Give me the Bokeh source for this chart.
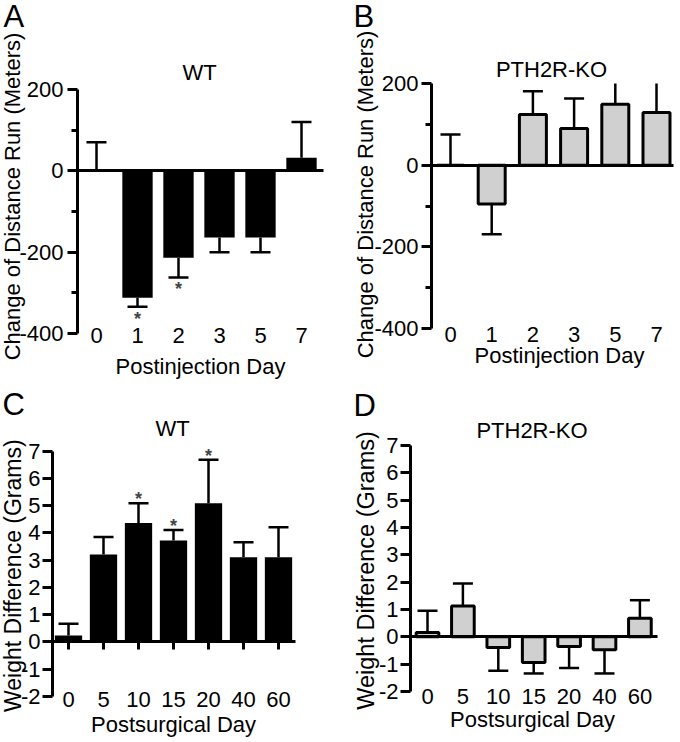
import math
from bokeh.plotting import figure
from bokeh.layouts import row, column
from bokeh.models import Range1d, FixedTicker, Label
from bokeh.embed import file_html
from bokeh.resources import INLINE

FONT = "Liberation Sans"

# ---------------- data ----------------
days_run = ["0", "1", "2", "3", "5", "7"]
wt_run = [0, -312, -214, -164, -164, 32]
wt_run_err = [70, 22, 48, 36, 36, 88]
wt_run_sig = [0, 1, 1, 0, 0, 0]
ko_run = [0, -95, 124, 90, 149, 129]
ko_run_err = [75, 74, 57, 73, 60, 80]
ko_run_sig = [0, 0, 0, 0, 0, 0]

days_wt = ["0", "5", "10", "15", "20", "40", "60"]
wt_weight = [0.24, 3.21, 4.37, 3.72, 5.09, 3.11, 3.11]
wt_weight_err = [0.43, 0.64, 0.72, 0.39, 1.60, 0.55, 1.10]
wt_weight_sig = [0, 0, 1, 1, 1, 0, 0]
ko_weight = [0.16, 1.13, -0.39, -0.94, -0.35, -0.47, 0.68]
ko_weight_err = [0.79, 0.82, 0.85, 0.40, 0.79, 0.87, 0.66]
ko_weight_sig = [0, 0, 0, 0, 0, 0, 0]

run_ticks = [-400, -200, 0, 200]
run_minor = [-300, -100, 100]
weight_ticks = [-2, -1, 0, 1, 2, 3, 4, 5, 6, 7]


def panel(cats, vals, errs, sig, yticks, yminor, title, letter, ylabel, xlabel, g):
    W, H = g["size"]
    c0, dc = g["cat_px"]               # pixel centre of first category, spacing
    (vt, pt), (vb, pb) = g["y_anchor"]  # value -> pixel (from top)
    k = (pb - pt) / (vt - vb)           # px per unit

    def px2x(px):
        return (px - c0) / dc

    def py2y(py):
        return vt + (pt - py) / k

    p = figure(width=W, height=H, output_backend="svg", toolbar_location=None,
               x_range=Range1d(px2x(0), px2x(W)), y_range=Range1d(py2y(H), py2y(0)),
               min_border=0, min_border_left=0, min_border_right=0,
               min_border_top=0, min_border_bottom=0, title=None)
    p.outline_line_color = None
    p.grid.visible = False
    p.background_fill_color = "white"
    p.border_fill_color = "white"
    xs = list(range(len(cats)))
    ymin, ymax = min(yticks), max(yticks)

    # bars
    if g["outline"]:
        p.vbar(x=xs, top=vals, bottom=0, width=g["bar_w"], fill_color=g["fill"],
               line_color="black", line_width=3)
    else:
        p.vbar(x=xs, top=vals, bottom=0, width=g["bar_w"], fill_color=g["fill"],
               line_color=None)

    # one-sided error bars, clipped at the axis limits
    raw = [v + e if v >= 0 else v - e for v, e in zip(vals, errs)]
    ends = [min(max(r, ymin), ymax) for r in raw]
    p.segment(x0=xs, y0=vals, x1=xs, y1=ends, line_color="black", line_width=2.5)
    cx = [x for x, r, e in zip(xs, raw, ends) if r == e]
    cy = [e for r, e in zip(raw, ends) if r == e]
    p.scatter(x=cx, y=cy, marker="dash", size=20, line_color="black", line_width=2.5)

    # significance marks
    for i, (v, e, s) in enumerate(zip(vals, ends, sig)):
        if s:
            off = 4 if v >= 0 else -12
            p.add_layout(Label(x=i, y=e, y_offset=off, text="*", text_align="center",
                               text_baseline="middle", text_font=FONT,
                               text_font_size="18px", text_font_style="bold"))

    # y axis, placed at its pixel position inside the canvas
    ya = p.yaxis[0]
    ya.fixed_location = px2x(g["axis_px"])
    ya.bounds = (ymin, ymax)
    ya.ticker = FixedTicker(ticks=yticks, minor_ticks=yminor)
    ya.major_label_overrides = {t: str(t) for t in yticks}
    ya.axis_line_width = 3
    ya.major_tick_line_width = 3
    ya.minor_tick_line_width = 3
    ya.major_tick_out = 10
    ya.major_tick_in = 0
    ya.minor_tick_out = 6 if yminor else 0
    ya.minor_tick_in = 0
    ya.major_label_standoff = g["ylab_standoff"]
    ya.major_label_text_font = FONT
    ya.major_label_text_font_size = "22px"
    ya.major_label_text_color = "black"

    # x axis = the zero line; its labels sit at the bottom row
    tick_out = g["zero_tick"]
    xa = p.xaxis[0]
    xa.fixed_location = 0
    xa.bounds = (px2x(g["axis_px"]), px2x(g["zero_end_px"]))
    xa.ticker = FixedTicker(ticks=xs, minor_ticks=[])
    xa.major_label_overrides = {i: c for i, c in enumerate(cats)}
    xa.axis_line_width = 3
    xa.major_tick_line_width = 3
    xa.major_tick_out = tick_out
    xa.major_tick_in = 0
    xa.minor_tick_out = 0
    xa.minor_tick_in = 0
    if tick_out == 0:
        xa.major_tick_line_color = None
    xa.major_label_standoff = int(round(g["xtick_py"] - (pt + (vt - 0) * k) - 6 - tick_out))
    xa.major_label_text_font = FONT
    xa.major_label_text_font_size = "22px"
    xa.major_label_text_color = "black"

    # texts (anchored at the centre of their capitals)
    def text(px, py, s, size, align="center", angle=0.0):
        p.add_layout(Label(x=px2x(px), y=py2y(py), text=s, angle=angle,
                           text_align=align, text_baseline="middle",
                           text_font=FONT, text_font_size=size, text_color="black"))

    text(g["letter"][0], g["letter"][1], letter, "31px", align="left")
    text(g["title"][0], g["title"][1], title, "22px")
    text(g["xlabel"][0], g["xlabel"][1], xlabel, "22px")
    text(g["ylabel"][0], g["ylabel"][1], ylabel, g["ylabel_size"], angle=math.pi / 2)
    return p


geo_A = dict(size=(340, 380), cat_px=(96, 41), y_anchor=((200, 89), (-400, 333)),
             axis_px=77, zero_end_px=323, zero_tick=0, xtick_py=333.5, ylab_standoff=4,
             bar_w=0.74, fill="black", outline=False,
             letter=(3, 16), title=(199, 71.5), xlabel=(200, 366),
             ylabel=(12, 196), ylabel_size="22px")
geo_B = dict(size=(340, 380), cat_px=(110, 41.2), y_anchor=((200, 83), (-400, 328)),
             axis_px=91, zero_end_px=333, zero_tick=0, xtick_py=332.5, ylab_standoff=3,
             bar_w=0.655, fill="#d0d0d0", outline=True,
             letter=(13, 16), title=(211, 69), xlabel=(219, 354.5),
             ylabel=(25, 194), ylabel_size="22px")
geo_C = dict(size=(340, 362), cat_px=(68, 35), y_anchor=((7, 70.7), (-2, 316)),
             axis_px=52, zero_end_px=295, zero_tick=8, xtick_py=317, ylab_standoff=2,
             bar_w=0.78, fill="black", outline=False,
             letter=(2, 24), title=(172, 47.5), xlabel=(173, 344),
             ylabel=(12, 192), ylabel_size="23px")
geo_D = dict(size=(340, 362), cat_px=(87, 35.4), y_anchor=((7, 65), (-2, 311)),
             axis_px=70, zero_end_px=317, zero_tick=0, xtick_py=314, ylab_standoff=2,
             bar_w=0.64, fill="#d0d0d0", outline=True,
             letter=(13, 25), title=(191.5, 49.5), xlabel=(192, 339),
             ylabel=(25, 190), ylabel_size="23.5px")

pA = panel(days_run, wt_run, wt_run_err, wt_run_sig, run_ticks, run_minor, "WT", "A",
           "Change of Distance Run (Meters)", "Postinjection Day", geo_A)
pB = panel(days_run, ko_run, ko_run_err, ko_run_sig, run_ticks, run_minor, "PTH2R-KO", "B",
           "Change of Distance Run (Meters)", "Postinjection Day", geo_B)
pC = panel(days_wt, wt_weight, wt_weight_err, wt_weight_sig, weight_ticks, [], "WT", "C",
           "Weight  Difference (Grams)", "Postsurgical Day", geo_C)
pD = panel(days_wt, ko_weight, ko_weight_err, ko_weight_sig, weight_ticks, [], "PTH2R-KO", "D",
           "Weight Difference (Grams)", "Postsurgical Day", geo_D)

layout = column(row(pA, pB), row(pC, pD))
open("out.html", "w").write(file_html(layout, INLINE))
